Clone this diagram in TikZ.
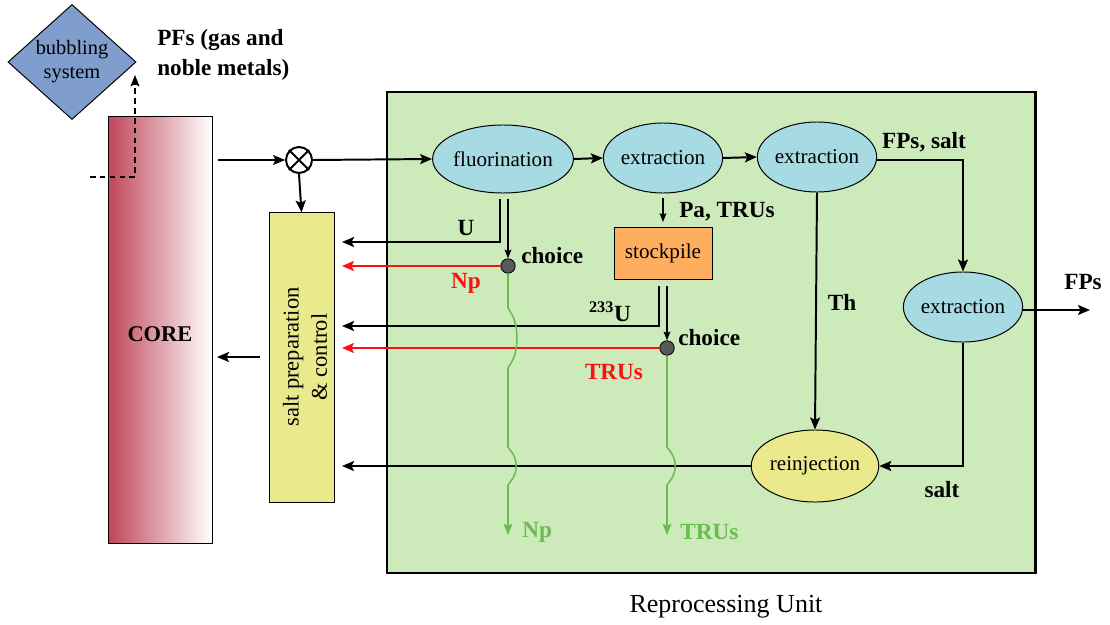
\documentclass[tikz,border=0pt]{standalone}
\usepackage{fontspec}
\setmainfont{Liberation Serif}
\usetikzlibrary{shapes.geometric,arrows.meta,calc}
\definecolor{diamblue}{HTML}{7F9ECD}
\definecolor{corered}{HTML}{C0485A}
\definecolor{saltyel}{HTML}{EAEA8C}
\definecolor{repgreen}{HTML}{CDEABB}
\definecolor{ellblue}{HTML}{A6DBE3}
\definecolor{stockor}{HTML}{FFAE5F}
\definecolor{dotgray}{HTML}{595959}
\definecolor{outgreen}{HTML}{6CBB50}
\definecolor{redline}{HTML}{FF1010}
\newcommand\procfont{\fontsize{15}{18}\selectfont}
\newcommand\labfont{\fontsize{16.5}{21}\selectfont\bfseries}
\tikzset{
  proc/.style={ellipse, draw, line width=0.7pt, fill=ellblue, inner sep=0pt, font=\procfont},
  lab/.style={font=\labfont, inner sep=0pt},
  mainline/.style={line width=1.4pt, -{Stealth[length=0.3cm,width=0.25cm,inset=0.06cm]}},
  thinarrow/.style={line width=0.8pt, -{Stealth[length=0.22cm,width=0.17cm,inset=0.04cm]}},
  redarrow/.style={line width=1.3pt, redline, -{Stealth[length=0.3cm,width=0.25cm,inset=0.06cm]}},
  greenarrow/.style={line width=1.1pt, outgreen, -{Stealth[length=0.28cm,width=0.22cm,inset=0.05cm]}},
  choicedot/.style={circle, draw, line width=0.6pt, fill=dotgray, minimum size=0.36cm, inner sep=0pt}
}
\begin{document}
\begin{tikzpicture}[x=0.025cm,y=-0.025cm]
\useasboundingbox (0,0) rectangle (1110,624);
% reprocessing unit
\node[draw, line width=2pt, fill=repgreen, minimum width=16.2cm, minimum height=12.025cm, inner sep=0pt] (rep) at (711,332.5) {};
\node[font=\fontsize{18.5}{22}\selectfont, inner sep=0pt] (reptxt) at (726,607) {Reprocessing Unit};
% bubbling system
\node[diamond, draw, line width=0.7pt, fill=diamblue, minimum width=3.2cm, minimum height=2.8cm, inner sep=0pt, align=center, font=\fontsize{14.5}{17}\selectfont] (bub) at (72,62) {bubbling\\system};
\node[lab, align=left, anchor=west] (pfs) at (157,55) {PFs (gas and\\noble metals)};
% core
\node[draw, line width=0.7pt, left color=corered, right color=white, minimum width=2.575cm, minimum height=10.65cm, inner sep=0pt] (core) at (160.5,330) {};
\node[font=\fontsize{16}{19}\selectfont\bfseries, inner sep=0pt] (coretxt) at (160,334) {CORE};
% salt preparation
\node[draw, line width=0.7pt, fill=saltyel, minimum width=1.625cm, minimum height=7.225cm, inner sep=0pt] (salt) at (301.5,357.5) {};
\node[rotate=90, align=center, font=\fontsize{16}{20}\selectfont, inner sep=0pt] (salttxt) at (305,357) {salt preparation\\\& control};
% otimes
\node[circle, draw, line width=1.4pt, minimum size=0.65cm, inner sep=0pt] (ot) at (299,160) {};
\draw[line width=1.4pt] (ot.north east) -- (ot.south west) (ot.north west) -- (ot.south east);
% processes
\node[proc, minimum width=2.725cm, minimum height=1.7cm] (fl) at (503,159) {fluorination};
\node[proc, minimum width=2.45cm, minimum height=1.75cm] (ex1) at (663,158) {extraction};
\node[proc, minimum width=2.45cm, minimum height=1.75cm] (ex2) at (817,157) {extraction};
\node[proc, minimum width=2.45cm, minimum height=1.75cm] (ex3) at (963,307) {extraction};
\node[proc, fill=saltyel, minimum width=2.65cm, minimum height=1.8cm] (rj) at (815,466) {reinjection};
\node[draw, line width=0.7pt, fill=stockor, minimum width=2.45cm, minimum height=1.3cm, inner sep=0pt, font=\procfont] (stock) at (663,253) {stockpile};
\node[choicedot] (d1) at (508,266) {};
\node[choicedot] (d2) at (667,348) {};
% free-end coordinates
\coordinate (coreOut) at (218,160);
\coordinate (sIn) at (342,0);
\coordinate (saltOut) at (260,357);
\coordinate (coreIn) at (217,357);
\coordinate (dashA) at (90,177);
\coordinate (dashB) at (135,177);
\coordinate (dashC) at (135,75);
\coordinate (fpsOut) at (1090,310);
\coordinate (flA) at (500,199);
\coordinate (flB) at (508,199);
\coordinate (flC) at (500,242);
\coordinate (exA) at (663,198);
\coordinate (exB) at (663,222);
\coordinate (stA) at (659,286);
\coordinate (stB) at (667,286);
\coordinate (stC) at (659,326);
\coordinate (npEnd) at (508,535);
\coordinate (truEnd) at (667,535);
% connectors
\draw[line width=1.4pt, dash pattern=on 4pt off 3pt, -{Stealth[length=0.28cm,width=0.22cm,inset=0.05cm]}] (dashA) -- (dashB) -- (dashC);
\draw[mainline] (coreOut) -- (ot.west);
\draw[mainline] (ot.east) -- (fl.west);
\draw[mainline] (ot.south) -- (salt.north);
\draw[mainline] (saltOut) -- (coreIn);
\draw[mainline] (fl.east) -- (ex1.west);
\draw[mainline] (ex1.east) -- (ex2.west);
\draw[mainline] ([yshift=-0.075cm]ex2.east) -| (ex3.north);
\draw[mainline] (ex3.east |- fpsOut) -- (fpsOut);
\draw[mainline] (ex3.south) |- (rj.east);
\draw[mainline] (ex2.south) -- (rj.north);
\draw[mainline] (rj.west) -- (rj.west -| sIn);
\draw[mainline] (flA) -- (flC) -- (flC -| sIn);
\draw[thinarrow] (flB) -- (d1.north);
\draw[redarrow] (d1.west) -- (d1.west -| sIn);
\draw[thinarrow] (exA) -- (exB);
\draw[mainline] (stA) -- (stC) -- (stC -| sIn);
\draw[thinarrow] (stB) -- (d2.north);
\draw[redarrow] (d2.west) -- (d2.west -| sIn);
\draw[greenarrow] (d1.south) -- (508,308) -- (511,313)
  .. controls (519,325) and (519,351) .. (511,363) -- (508,368) -- (508,447) -- (511,451)
  .. controls (518,460) and (518,472) .. (511,481) -- (508,485) -- (npEnd);
\draw[greenarrow] (d2.south) -- (667,447) -- (670,451)
  .. controls (677,460) and (677,472) .. (670,481) -- (667,485) -- (truEnd);
% labels
\node[lab] (lfpsalt) at (924,142) {FPs, salt};
\node[lab] (lfps) at (1083,282) {FPs};
\node[lab] (lth) at (842,302) {Th};
\node[lab] (lsalt) at (942,490) {salt};
\node[lab] (lu) at (466,228) {U};
\node[lab, anchor=west] (lch1) at (521,256) {choice};
\node[lab, anchor=west] (lch2) at (678,338) {choice};
\node[lab, text=redline] (lnp) at (466,283) {Np};
\node[lab, anchor=west] (lpa) at (679,212) {Pa, TRUs};
\node[lab] (lu233) at (610,312) {$^{\mathbf{233}}$U};
\node[lab, text=redline] (ltru) at (614,372) {TRUs};
\node[lab, text=outgreen, anchor=west] (lnpg) at (522,532) {Np};
\node[lab, text=outgreen, anchor=west] (ltrug) at (680,532) {TRUs};
\end{tikzpicture}
\end{document}
